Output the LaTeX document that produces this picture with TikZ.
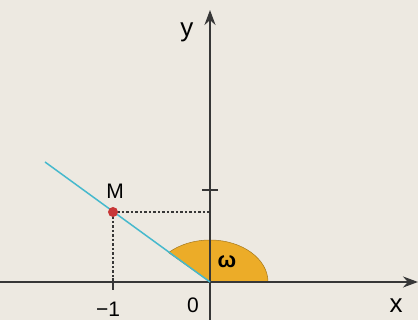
\documentclass[tikz,border=0pt]{standalone}
\usepackage{fontspec}
\setmainfont{Liberation Sans}
\usetikzlibrary{arrows.meta}

\definecolor{bgcol}{RGB}{237,233,225}
\definecolor{axiscol}{RGB}{55,55,55}
\definecolor{linecol}{RGB}{70,185,205}
\definecolor{sectcol}{RGB}{236,172,40}
\definecolor{dotcol}{RGB}{200,55,55}

\begin{document}
\begin{tikzpicture}[x=1pt, y=1pt,
    axis/.style={line width=2pt, axiscol, -{Stealth[length=15pt, width=11pt]}},
    tick/.style={line width=1.8pt, axiscol},
    guide/.style={line width=1.5pt, axiscol, dash pattern=on 2.5pt off 2pt},
    lbl/.style={font=\fontsize{21}{24}\selectfont, text=black}]
    \fill[bgcol] (-210,-38) rectangle (208,282);
    \useasboundingbox (-210,-38) rectangle (208,282);

    \coordinate (O) at (0,0);
    \coordinate (M) at (-97,70);
    \coordinate (Mx) at (-97,0);
    \coordinate (My) at (0,70);
    \coordinate (L) at (-165,120);

    % sector for the angle
    \fill[sectcol, draw=sectcol!70!black, line width=0.5pt]
        (O) -- (58,0) arc[start angle=0, end angle=135.6, x radius=58, y radius=42] -- cycle;

    % axes
    \draw[axis] (-210,0) -- (208,0);
    \draw[axis] (0,-38) -- (0,272);
    \draw[tick] (-8,92) -- (8,92);
    \draw[tick] (-97,4) -- (-97,-8);

    % projections of M
    \draw[guide] (M) -- (My);
    \draw[guide] (M) -- (Mx);

    \draw[linecol, line width=1.5pt] (L) -- (O);
    \fill[dotcol] (M) circle (5);

    \node[lbl, font=\fontsize{26}{28}\selectfont] at (-23,250) {y};
    \node[lbl, font=\fontsize{26}{28}\selectfont] at (186,-24) {x};
    \node[lbl] at (-95,91) {M};
    \node[lbl] at (-17,-23) {0};
    \node[lbl, inner sep=1pt] at (-102,-27) {\textminus1};
    \node[lbl, font=\fontsize{22}{24}\selectfont\bfseries] at (17,20) {ω};
\end{tikzpicture}
\end{document}
